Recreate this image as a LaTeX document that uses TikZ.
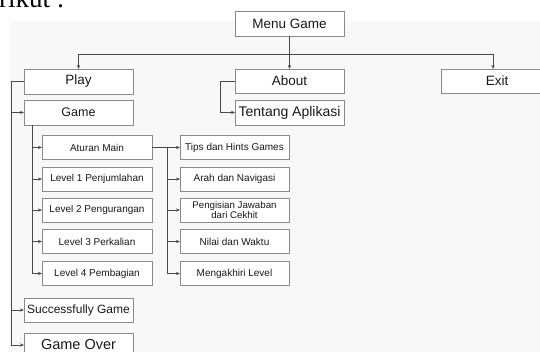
\documentclass[tikz,border=0pt]{standalone}
\usepackage{fontspec}
\setmainfont{Liberation Sans}
\newfontfamily\serifdoc{Liberation Serif}
\usetikzlibrary{arrows.meta}
\definecolor{linec}{HTML}{4A4A4A}
\definecolor{boxc}{HTML}{8A8A8A}
\definecolor{bgc}{HTML}{F8F8F8}
\tikzset{
  box/.style={draw=boxc, line width=0.8pt, fill=white, inner sep=0pt, outer sep=0pt, text=black!90, align=center},
  topbox/.style={box, minimum width=109pt, minimum height=25pt, font=\fontsize{13.5}{14}\selectfont},
  subbox/.style={box, minimum width=110pt, minimum height=24pt, font=\fontsize{10}{10.5}\selectfont},
  conn/.style={draw=linec, line width=0.7pt},
  arr/.style={conn, -{Stealth[length=4pt,width=3.2pt]}},
}
\begin{document}
\begin{tikzpicture}[x=1pt,y=-1pt]
\useasboundingbox (0,0) rectangle (540,352);
\fill[bgc] (10,21) rectangle (540,352);
\node[anchor=base west, font=\serifdoc\fontsize{27}{27}\selectfont, inner sep=0pt] (head) at (-1,8) {rikut :};

% top level
\node[topbox] (menu) at (289.5,23.5) {Menu Game};
\node[topbox] (play) at (78.5,81.5) {Play};
\node[topbox, minimum height=24pt] (about) at (289.5,81) {About};
\node[topbox, minimum width=112pt, minimum height=24pt] (exit) at (497,81) {Exit};
\node[topbox, font=\fontsize{14}{14}\selectfont] (tentang) at (289.5,112.5) {Tentang Aplikasi};
\node[topbox, font=\fontsize{12.5}{13}\selectfont] (game) at (78.5,112.5) {Game};
\node[topbox, minimum height=24pt, font=\fontsize{12}{13}\selectfont] (succ) at (78.5,310) {Successfully Game};
\node[topbox, minimum height=24pt, font=\fontsize{14.5}{15}\selectfont] (over) at (78.5,345) {Game Over};

% game sub-levels
\node[subbox] (atur) at (97,147.5) {Aturan Main};
\node[subbox] (lv1) at (97,179) {Level 1 Penjumlahan};
\node[subbox] (lv2) at (97,210) {Level 2 Pengurangan};
\node[subbox] (lv3) at (97,241.5) {Level 3 Perkalian};
\node[subbox] (lv4) at (97,273.5) {Level 4 Pembagian};

% aturan sub-levels
\node[subbox, minimum width=109pt] (tips) at (234.5,147.5) {Tips dan Hints Games};
\node[subbox, minimum width=109pt] (arah) at (234.5,179) {Arah dan Navigasi};
\node[subbox, minimum width=109pt, font=\fontsize{9.7}{10}\selectfont] (peng) at (234.5,210) {Pengisian Jawaban\\dari Cekhit};
\node[subbox, minimum width=109pt] (nilai) at (234.5,241.5) {Nilai dan Waktu};
\node[subbox, minimum width=109pt] (akhir) at (234.5,273.5) {Mengakhiri Level};

% connectors: menu
\coordinate (hb) at (0,54);
\coordinate (ex) at (493,0);
\draw[arr] (menu.south) -- (about.north);
\draw[conn] (play.north |- hb) -- (ex |- hb);
\draw[arr] (play.north |- hb) -- (play.north);
\draw[arr] (ex |- hb) -- (ex |- exit.north);

% about
\coordinate (ab) at (220,0);
\draw[arr] (about.west) -- (about.west -| ab) |- (tentang.west);

% play
\coordinate (pl) at (11,0);
\draw[arr] (play.west) -- (play.west -| pl) |- (over.west);
\draw[arr] (game.west -| pl) -- (game.west);
\draw[arr] (succ.west -| pl) -- (succ.west);

% game
\coordinate (gs) at (32,125);
\draw[arr] (gs) |- (lv4.west);
\foreach \n in {atur,lv1,lv2,lv3} \draw[arr] (\n.west -| gs) -- (\n.west);

% aturan
\coordinate (at) at (167,0);
\draw[arr] (atur.east) -- (tips.west);
\draw[arr] (atur.east -| at) |- (akhir.west);
\foreach \n in {arah,peng,nilai} \draw[arr] (\n.west -| at) -- (\n.west);
\end{tikzpicture}
\end{document}
